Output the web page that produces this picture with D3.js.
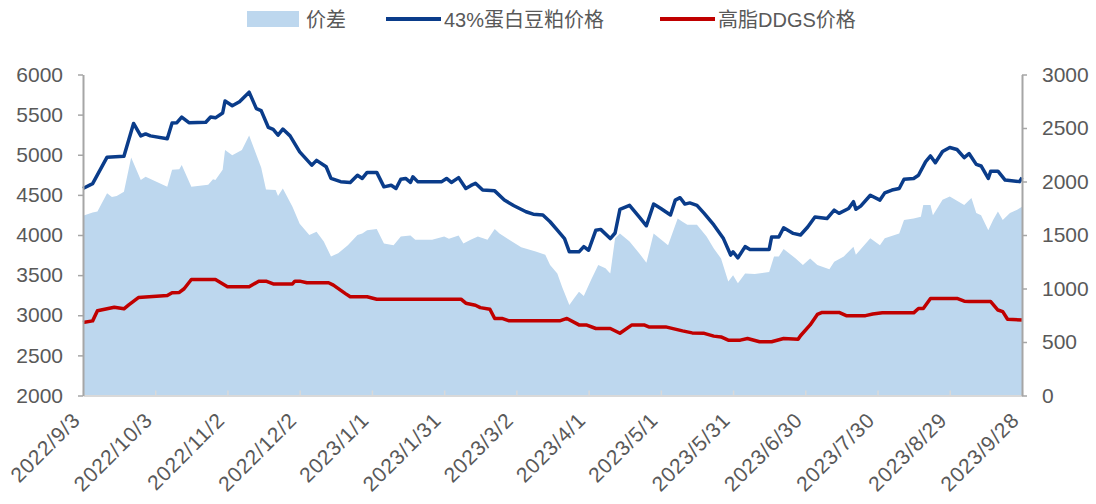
<!DOCTYPE html>
<html>
<head>
<meta charset="utf-8">
<script src="https://cdn.jsdelivr.net/npm/d3@7"></script>
<style>
  body { margin: 0; background: #fff; }
  svg { display: block; }
  text { font-family: "Liberation Sans", Arial, "Noto Sans CJK SC", sans-serif; fill: #595959; }
</style>
</head>
<body>
<svg id="chart" width="1096" height="504"></svg>
<script>
var tickLabels = ['2022/9/3', '2022/10/3', '2022/11/2', '2022/12/2', '2023/1/1', '2023/1/31', '2023/3/2',
                  '2023/4/1', '2023/5/1', '2023/5/31', '2023/6/30', '2023/7/30', '2023/8/29', '2023/9/28'];
var leftTicks = [2000, 2500, 3000, 3500, 4000, 4500, 5000, 5500, 6000];
var rightTicks = [0, 500, 1000, 1500, 2000, 2500, 3000];
var legendNames = ['价差', '43%蛋白豆粕价格', '高脂DDGS价格'];

// 43%蛋白豆粕价格 (left axis)
var soyMeal = [['2022/9/3',4580],['2022/9/7',4640],['2022/9/13',4970],['2022/9/20',4980],['2022/9/24',5390],['2022/9/27',5235],
  ['2022/9/29',5260],['2022/10/1',5235],['2022/10/8',5200],['2022/10/10',5395],['2022/10/12',5400],['2022/10/14',5470],
  ['2022/10/17',5400],['2022/10/24',5405],['2022/10/26',5470],['2022/10/28',5460],['2022/10/31',5520],['2022/11/1',5670],
  ['2022/11/4',5610],['2022/11/7',5660],['2022/11/11',5780],['2022/11/14',5575],['2022/11/16',5550],['2022/11/19',5340],
  ['2022/11/21',5315],['2022/11/23',5245],['2022/11/25',5320],['2022/11/28',5235],['2022/12/2',5035],['2022/12/7',4870],
  ['2022/12/9',4930],['2022/12/13',4850],['2022/12/15',4705],['2022/12/19',4665],['2022/12/23',4655],['2022/12/26',4745],
  ['2022/12/28',4705],['2022/12/30',4780],['2023/1/3',4780],['2023/1/6',4600],['2023/1/9',4620],['2023/1/11',4580],
  ['2023/1/13',4695],['2023/1/15',4705],['2023/1/17',4655],['2023/1/18',4725],['2023/1/20',4665],['2023/1/30',4665],
  ['2023/2/1',4705],['2023/2/3',4655],['2023/2/6',4715],['2023/2/9',4580],['2023/2/11',4615],['2023/2/13',4645],
  ['2023/2/16',4560],['2023/2/21',4550],['2023/2/25',4435],['2023/3/1',4365],['2023/3/6',4290],['2023/3/9',4260],
  ['2023/3/13',4250],['2023/3/16',4165],['2023/3/19',4060],['2023/3/22',3955],['2023/3/24',3790],['2023/3/28',3790],
  ['2023/3/30',3855],['2023/4/1',3810],['2023/4/4',4060],['2023/4/6',4070],['2023/4/10',3955],['2023/4/12',4025],
  ['2023/4/14',4320],['2023/4/18',4370],['2023/4/22',4225],['2023/4/25',4115],['2023/4/28',4385],['2023/5/1',4330],
  ['2023/5/5',4250],['2023/5/7',4435],['2023/5/9',4465],['2023/5/11',4385],['2023/5/13',4400],['2023/5/16',4370],
  ['2023/5/19',4270],['2023/5/23',4125],['2023/5/27',3955],['2023/5/30',3750],['2023/5/31',3790],['2023/6/2',3715],
  ['2023/6/5',3855],['2023/6/7',3820],['2023/6/15',3820],['2023/6/16',3975],['2023/6/19',3975],['2023/6/21',4090],
  ['2023/6/25',4020],['2023/6/28',4000],['2023/7/1',4100],['2023/7/4',4225],['2023/7/9',4205],['2023/7/12',4310],
  ['2023/7/14',4270],['2023/7/18',4330],['2023/7/20',4415],['2023/7/21',4320],['2023/7/23',4360],['2023/7/27',4495],
  ['2023/7/31',4435],['2023/8/2',4525],['2023/8/5',4560],['2023/8/8',4580],['2023/8/10',4695],['2023/8/14',4705],
  ['2023/8/16',4745],['2023/8/19',4915],['2023/8/21',4985],['2023/8/23',4900],['2023/8/26',5040],['2023/8/29',5090],
  ['2023/9/1',5065],['2023/9/4',4965],['2023/9/6',5015],['2023/9/9',4880],['2023/9/11',4860],['2023/9/14',4705],
  ['2023/9/15',4795],['2023/9/18',4795],['2023/9/21',4685],['2023/9/27',4665],['2023/9/28',4715]];

// 高脂DDGS价格 (left axis)
var ddgs = [['2022/9/3',2910],['2022/9/7',2930],['2022/9/9',3055],['2022/9/16',3100],['2022/9/20',3080],['2022/9/22',3130],
  ['2022/9/26',3220],['2022/10/8',3245],['2022/10/10',3280],['2022/10/13',3285],['2022/10/15',3330],['2022/10/18',3445],
  ['2022/10/28',3445],['2022/11/2',3355],['2022/11/11',3355],['2022/11/15',3425],['2022/11/18',3425],['2022/11/21',3390],
  ['2022/11/29',3390],['2022/11/30',3425],['2022/12/2',3425],['2022/12/5',3405],['2022/12/14',3405],['2022/12/16',3375],
  ['2022/12/21',3270],['2022/12/23',3230],['2022/12/30',3230],['2023/1/3',3200],['2023/2/7',3200],['2023/2/9',3150],
  ['2023/2/13',3125],['2023/2/15',3095],['2023/2/19',3075],['2023/2/21',2960],['2023/2/24',2960],['2023/2/27',2930],
  ['2023/3/20',2930],['2023/3/23',2960],['2023/3/28',2880],['2023/3/31',2880],['2023/4/4',2835],['2023/4/10',2835],
  ['2023/4/14',2775],['2023/4/19',2880],['2023/4/24',2880],['2023/4/26',2855],['2023/5/3',2855],['2023/5/10',2805],
  ['2023/5/14',2780],['2023/5/19',2775],['2023/5/23',2740],['2023/5/26',2730],['2023/5/29',2690],['2023/6/3',2690],
  ['2023/6/6',2710],['2023/6/11',2670],['2023/6/16',2670],['2023/6/21',2710],['2023/6/27',2700],['2023/6/28',2745],
  ['2023/7/2',2880],['2023/7/5',3010],['2023/7/7',3035],['2023/7/14',3035],['2023/7/17',2995],['2023/7/25',2995],
  ['2023/7/28',3015],['2023/8/1',3030],['2023/8/14',3030],['2023/8/16',3085],['2023/8/18',3085],['2023/8/21',3210],
  ['2023/9/1',3210],['2023/9/4',3175],['2023/9/6',3170],['2023/9/15',3170],['2023/9/18',3065],['2023/9/20',3045],
  ['2023/9/22',2950],['2023/9/28',2940]];

// 价差 (right axis)
var spread = [['2022/9/3',1680],['2022/9/7',1710],['2022/9/9',1720],['2022/9/13',1890],['2022/9/15',1855],['2022/9/17',1865],
  ['2022/9/20',1905],['2022/9/23',2225],['2022/9/27',2015],['2022/9/29',2045],['2022/10/8',1950],['2022/10/10',2110],
  ['2022/10/13',2115],['2022/10/14',2155],['2022/10/18',1950],['2022/10/25',1970],['2022/10/27',2020],['2022/10/28',2015],
  ['2022/10/31',2110],['2022/11/1',2295],['2022/11/4',2245],['2022/11/8',2295],['2022/11/11',2430],['2022/11/16',2130],
  ['2022/11/18',1925],['2022/11/22',1920],['2022/11/23',1865],['2022/11/25',1935],['2022/11/29',1765],['2022/12/2',1605],
  ['2022/12/6',1500],['2022/12/9',1530],['2022/12/12',1440],['2022/12/15',1300],['2022/12/18',1330],['2022/12/22',1405],
  ['2022/12/26',1500],['2022/12/28',1515],['2022/12/30',1545],['2023/1/3',1555],['2023/1/6',1420],['2023/1/10',1405],
  ['2023/1/13',1485],['2023/1/17',1495],['2023/1/19',1455],['2023/1/26',1455],['2023/1/31',1485],['2023/2/2',1465],
  ['2023/2/6',1495],['2023/2/8',1420],['2023/2/11',1455],['2023/2/14',1485],['2023/2/18',1455],['2023/2/21',1555],
  ['2023/2/23',1515],['2023/2/27',1455],['2023/3/4',1385],['2023/3/10',1345],['2023/3/14',1315],['2023/3/16',1220],
  ['2023/3/19',1140],['2023/3/21',1015],['2023/3/24',845],['2023/3/26',910],['2023/3/28',970],['2023/3/30',930],
  ['2023/4/2',1080],['2023/4/5',1220],['2023/4/8',1190],['2023/4/10',1140],['2023/4/12',1470],['2023/4/14',1515],
  ['2023/4/18',1440],['2023/4/22',1330],['2023/4/25',1240],['2023/4/28',1515],['2023/5/4',1405],['2023/5/8',1655],
  ['2023/5/10',1625],['2023/5/12',1595],['2023/5/16',1595],['2023/5/20',1485],['2023/5/23',1375],['2023/5/26',1280],
  ['2023/5/29',1065],['2023/5/31',1125],['2023/6/2',1050],['2023/6/5',1140],['2023/6/9',1135],['2023/6/15',1155],
  ['2023/6/17',1300],['2023/6/19',1300],['2023/6/21',1370],['2023/6/26',1280],['2023/6/29',1220],['2023/7/2',1280],
  ['2023/7/5',1220],['2023/7/10',1180],['2023/7/12',1250],['2023/7/16',1300],['2023/7/20',1390],['2023/7/21',1315],
  ['2023/7/27',1470],['2023/7/31',1405],['2023/8/2',1470],['2023/8/8',1515],['2023/8/10',1640],['2023/8/14',1655],
  ['2023/8/17',1670],['2023/8/18',1780],['2023/8/21',1780],['2023/8/22',1685],['2023/8/26',1830],['2023/8/29',1860],
  ['2023/9/1',1820],['2023/9/4',1780],['2023/9/7',1845],['2023/9/9',1705],['2023/9/11',1685],['2023/9/14',1545],
  ['2023/9/16',1640],['2023/9/18',1720],['2023/9/20',1640],['2023/9/23',1705],['2023/9/26',1735],['2023/9/28',1765]];

var parse = d3.timeParse('%Y/%m/%d');
var svg = d3.select('#chart');

var x = d3.scaleTime().domain([parse(tickLabels[0]), parse(tickLabels[tickLabels.length - 1])]).range([83, 1022]);
var yL = d3.scaleLinear().domain([2000, 6000]).range([395.5, 74.5]);
var yR = d3.scaleLinear().domain([0, 3000]).range([395.5, 74.5]);

// area for the spread
svg.append('path')
   .datum(spread)
   .attr('d', d3.area()
      .x(function(d){return x(parse(d[0]));})
      .y0(yR(0))
      .y1(function(d){return yR(d[1]);}))
   .style('fill', '#bdd7ee');

var line = d3.line()
   .x(function(d){return x(parse(d[0]));})
   .y(function(d){return yL(d[1]);});

svg.append('path').datum(soyMeal).attr('d', line)
   .style('fill', 'none').style('stroke', '#0a3c8a').style('stroke-width', 3.5).style('stroke-linejoin', 'round');
svg.append('path').datum(ddgs).attr('d', line)
   .style('fill', 'none').style('stroke', '#c00000').style('stroke-width', 3.5).style('stroke-linejoin', 'round');

// x axis
var gx = svg.append('g').attr('transform', 'translate(0,395.5)')
   .call(d3.axisBottom(x)
      .tickValues(tickLabels.map(function(s){return parse(s);}))
      .tickSizeInner(-5).tickSizeOuter(0)
      .tickFormat(function(d, i){return tickLabels[i];}));
gx.select('.domain').style('stroke', '#d9d9d9').style('stroke-width', 2);
gx.selectAll('.tick line').style('stroke', '#d9d9d9').style('stroke-width', 1.5);
gx.selectAll('.tick text')
  .attr('x', 0).attr('y', 0).attr('dy', 0)
  .attr('transform', 'translate(-2,26) rotate(-45)')
  .style('text-anchor', 'end').style('font-size', '21px').style('letter-spacing', '0.8px').style('fill', '#595959');

// left axis
var gl = svg.append('g').attr('transform', 'translate(83,0)')
   .call(d3.axisLeft(yL).tickValues(leftTicks).tickSizeInner(5).tickSizeOuter(0).tickPadding(15)
      .tickFormat(d3.format('d')));
gl.select('.domain').style('stroke', '#a6a6a6').style('stroke-width', 2);
gl.selectAll('.tick line').style('stroke', '#a6a6a6').style('stroke-width', 1.5);
gl.selectAll('.tick text').style('font-size', '21px').style('fill', '#595959');

// right axis
var gr = svg.append('g').attr('transform', 'translate(1022,0)')
   .call(d3.axisRight(yR).tickValues(rightTicks).tickSizeInner(5).tickSizeOuter(0).tickPadding(15)
      .tickFormat(d3.format('d')));
gr.select('.domain').style('stroke', '#a6a6a6').style('stroke-width', 2);
gr.selectAll('.tick line').style('stroke', '#a6a6a6').style('stroke-width', 1.5);
gr.selectAll('.tick text').style('font-size', '21px').style('fill', '#595959');

// legend
var legend = svg.append('g');
legend.append('rect').attr('x', 247).attr('y', 11).attr('width', 52).attr('height', 16).style('fill', '#bdd7ee');
legend.append('line').attr('x1', 386).attr('x2', 441).attr('y1', 19).attr('y2', 19)
   .style('stroke', '#0a3c8a').style('stroke-width', 4);
legend.append('line').attr('x1', 660).attr('x2', 715).attr('y1', 19).attr('y2', 19)
   .style('stroke', '#c00000').style('stroke-width', 4);
legend.selectAll('.legText')
   .data([{t : legendNames[0], x : 306}, {t : legendNames[1], x : 444}, {t : legendNames[2], x : 718}])
   .enter()
   .append('text')
   .classed('legText', true)
   .attr('x', function(d){return d.x;}).attr('y', 27)
   .style('font-size', '20px').style('fill', '#595959')
   .text(function(d){return d.t;});
</script>
</body>
</html>
